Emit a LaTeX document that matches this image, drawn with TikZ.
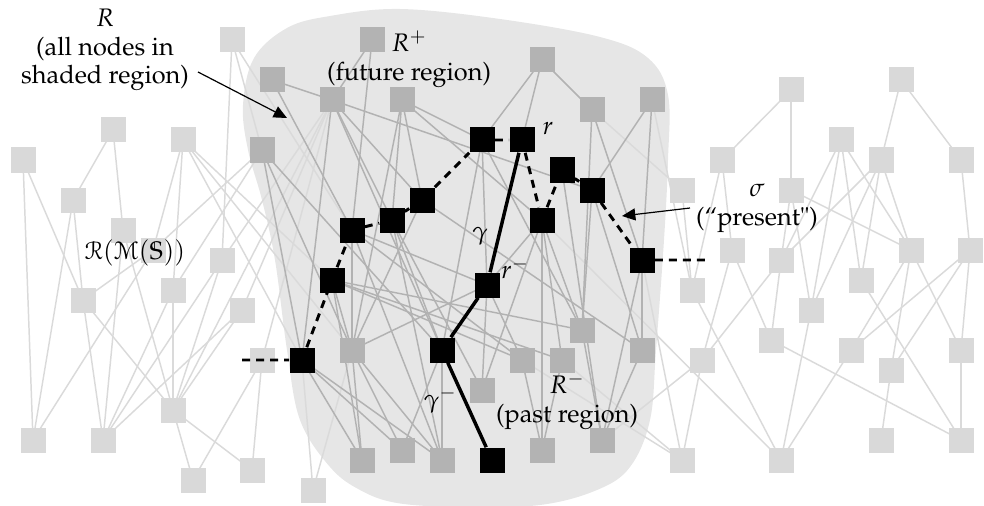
\documentclass[tikz,border=0pt]{standalone}
\usepackage[T1]{fontenc}
\usepackage{mathpazo}
\usepackage{amssymb}
\usepackage[mathcal]{eucal}
\usetikzlibrary{arrows.meta}
\definecolor{shadec}{HTML}{E6E6E6}
\definecolor{lnodec}{HTML}{D9D9D9}
\definecolor{dnodec}{HTML}{B3B3B3}
\definecolor{ledgec}{HTML}{DADADA}
\definecolor{dedgec}{HTML}{B2B2B2}
\pgfdeclarelayer{bg}\pgfdeclarelayer{edges}\pgfdeclarelayer{front}
\pgfsetlayers{bg,edges,main,front}
\tikzset{
  lsq/.style={rectangle, fill=lnodec, minimum size=18.75pt, inner sep=0pt},
  dsq/.style={rectangle, fill=dnodec, minimum size=18.75pt, inner sep=0pt},
  bsq/.style={rectangle, fill=black, minimum size=18.75pt, inner sep=0pt},
  le/.style={draw=ledgec, line width=1.1pt},
  de/.style={draw=dedgec, line width=1.1pt},
  sigmapath/.style={draw=black, line width=2.2pt, dash pattern=on 6pt off 4.5pt},
  gammapath/.style={draw=black, line width=2.6pt},
  lbl/.style={align=center, inner sep=0pt, font=\fontsize{19}{21.5}\selectfont},
  pointer/.style={draw=black, line width=0.9pt, -{Triangle[length=10pt,width=9pt]}}
}
\begin{document}
\begin{tikzpicture}[x=0.75pt,y=-0.75pt]
\useasboundingbox (0,0) rectangle (984,506);
% shaded region R
\begin{pgfonlayer}{bg}
\fill[shadec] plot[smooth cycle, tension=0.6] coordinates {
 (243,105) (254,58) (287,28) (330,16) (400,9) (500,19) (600,37) (648,58)
 (668,95) (668,160) (664,240) (656,350) (650,420) (630,467) (597,490)
 (540,505) (460,507) (397,503) (360,490) (330,467) (300,420) (287,350)
 (275,260) (262,200) (248,150)};
\end{pgfonlayer}
% light nodes, left
\node[lsq] (l1) at (232,40) {};
\node[lsq] (l2) at (113,130) {};
\node[lsq] (l3) at (183,140) {};
\node[lsq] (l4) at (23,160) {};
\node[lsq] (l5) at (73,200) {};
\node[lsq] (l6) at (123,230) {};
\node[lsq] (l7) at (153,250) {};
\node[lsq] (l8) at (222,260) {};
\node[lsq] (l9) at (173,290) {};
\node[lsq] (l10) at (83,300) {};
\node[lsq] (l11) at (242,310) {};
\node[lsq] (l12) at (262,360) {};
\node[lsq] (l13) at (173,410) {};
\node[lsq] (l14) at (33,440) {};
\node[lsq] (l15) at (103,440) {};
\node[lsq] (l16) at (193,480) {};
\node[lsq] (l17) at (252,470) {};
\node[lsq] (l18) at (313,490) {};
% light nodes, right
\node[lsq] (r1) at (791,90) {};
\node[lsq] (r2) at (901,80) {};
\node[lsq] (r3) at (722,160) {};
\node[lsq] (r4) at (841,140) {};
\node[lsq] (r5) at (881,160) {};
\node[lsq] (r6) at (961,160) {};
\node[lsq] (r7) at (682,190) {};
\node[lsq] (r8) at (791,190) {};
\node[lsq] (r9) at (732,250) {};
\node[lsq] (r10) at (781,260) {};
\node[lsq] (r11) at (861,280) {};
\node[lsq] (r12) at (911,250) {};
\node[lsq] (r13) at (970,250) {};
\node[lsq] (r14) at (692,290) {};
\node[lsq] (r15) at (811,310) {};
\node[lsq] (r16) at (771,340) {};
\node[lsq] (r17) at (702,360) {};
\node[lsq] (r18) at (851,350) {};
\node[lsq] (r19) at (891,370) {};
\node[lsq] (r20) at (961,350) {};
\node[lsq] (r21) at (881,440) {};
\node[lsq] (r22) at (961,440) {};
\node[lsq] (r23) at (682,460) {};
\node[lsq] (r24) at (781,460) {};
% dark nodes (in R)
\node[dsq] (d1) at (372,40) {};
\node[dsq] (d2) at (272,80) {};
\node[dsq] (d3) at (332,100) {};
\node[dsq] (d4) at (402,100) {};
\node[dsq] (d5) at (542,60) {};
\node[dsq] (d6) at (592,110) {};
\node[dsq] (d7) at (652,100) {};
\node[dsq] (d8) at (262,150) {};
\node[dsq] (d9) at (352,350) {};
\node[dsq] (d10) at (522,360) {};
\node[dsq] (d11) at (562,360) {};
\node[dsq] (d12) at (582,330) {};
\node[dsq] (d13) at (642,350) {};
\node[dsq] (d14) at (482,390) {};
\node[dsq] (d15) at (602,440) {};
\node[dsq] (d16) at (362,460) {};
\node[dsq] (d17) at (402,450) {};
\node[dsq] (d18) at (442,460) {};
\node[dsq] (d19) at (542,450) {};
% black nodes
\begin{pgfonlayer}{front}
\node[bsq] (b1) at (302,360) {};
\node[bsq] (b2) at (332,280) {};
\node[bsq] (b3) at (352,230) {};
\node[bsq] (b4) at (392,220) {};
\node[bsq] (b5) at (422,200) {};
\node[bsq] (b6) at (482,140) {};
\node[bsq] (b7) at (522,140) {};
\node[bsq] (b8) at (562,170) {};
\node[bsq] (b9) at (592,190) {};
\node[bsq] (b10) at (542,220) {};
\node[bsq] (b11) at (642,260) {};
\node[bsq] (b12) at (487,285) {};
\node[bsq] (b13) at (442,350) {};
\node[bsq] (b14) at (492,460) {};
\end{pgfonlayer}
% edges
\begin{pgfonlayer}{edges}
\foreach \a/\b in {l1/l8, l1/b3, l1/d8, l2/l5, l2/l6, l3/l7, l3/l9, l3/b2,
  l3/d9, l3/b1,
  l4/l14, l4/l10, l5/l14, l5/l10, l6/l15, l6/l13, l7/l10, l7/l14, l8/l13,
  l8/l15, l8/d3, l9/l13, l9/l15, l9/d8, l10/l13, l10/l15, l11/l15, l11/l13,
  l11/d3, l12/l16, l12/l17, l12/d3, l13/l16, l13/l17, l18/b1, l18/d9, d8/l7,
  d3/l13, d6/r7, d7/r14, b11/r23, d10/r23, d11/r23, r17/d15, b10/r24,
  r1/r3, r1/r8, r2/r5, r2/r6, r3/r14, r3/r9, r4/r10, r4/r15, r4/r11, r4/r12,
  r5/r11, r5/r15, r5/r12, r5/r10, r6/r13, r7/r14, r8/r10, r8/r15, r8/r12,
  r9/r17, r9/r16, r10/r17, r10/r16, r11/r22, r12/r18, r12/r19, r12/r20,
  r13/r18, r13/r19, r13/r20, r14/r24, r15/r24, r16/r22, r17/r23, r18/r24,
  r19/r21, r20/r22}
  \draw[le] (\a.center) -- (\b.center);
\foreach \a/\b in {d1/b3, d1/d3, d2/d3, d2/b3, d3/b13, d3/b4, d3/b5, d3/b9,
  d3/b1, d4/d9, d4/b4, d4/b6, d4/b5, d4/b10, d5/b6, d5/b7, d5/d6, d6/d12,
  d6/b11, d7/b9, d7/b11, d8/b1, d8/d9, d8/b13, b6/b13, b6/b12, b6/d12,
  b8/d15, b9/d12, b9/d13, b10/d19, b10/d11, b10/d12, b10/d14, b11/d15,
  b11/d13, b12/d10, b12/d14, b12/b10, b13/d18, b13/d17, b1/d16, b1/d17,
  b1/d18, b2/d11, b2/d12, b2/d10, b2/d16, b2/d9, b3/d9, b3/b12, b3/d10,
  b3/d18, b4/b13, b4/d18, b4/d14, b5/d13, b5/d9, d9/d16, d9/d18, d9/d17,
  d9/b12, d12/d15, d13/d15, d10/d19, d11/d19}
  \draw[de] (\a.center) -- (\b.center);
\end{pgfonlayer}
% sigma (present) and gamma paths
\coordinate (sl) at (242,360);
\coordinate (sr) at (705,260);
\draw[sigmapath] (sl) -- (b1) -- (b2) -- (b3) -- (b4) -- (b5) -- (b6) -- (b7)
  -- (b10) -- (b8) -- (b9) -- (b11) -- (sr);
\draw[gammapath] (b7) -- (b12) -- (b13) -- (b14);
% labels
\node[lbl] (labR) at (105,50) {$R$\\(all nodes in\\shaded region)};
\node[lbl] (labRp) at (409,59) {$R^+$\\(future region)};
\node[lbl] (labRm) at (567,401) {$R^-$\\(past region)};
\node[lbl] (labsig) at (757,208) {$\sigma$\\(``present\textquotedbl)};
\node[lbl] (labr) at (548,128) {$r$};
\node[lbl] (labg) at (480,236) {$\gamma$};
\node[lbl] (labrm) at (515,268) {$r^-$};
\node[lbl] (labgm) at (440,400) {$\gamma^-$};
\node[lbl] (labRMS) at (135,253) {$\mathcal{R}(\mathcal{M}(\mathbb{S}))$};
% pointers
\coordinate (pR1) at (198,72);
\coordinate (pR2) at (287,118);
\coordinate (ps1) at (690,208);
\coordinate (ps2) at (622,216);
\draw[pointer] (pR1) -- (pR2);
\draw[pointer] (ps1) -- (ps2);
\end{tikzpicture}
\end{document}
